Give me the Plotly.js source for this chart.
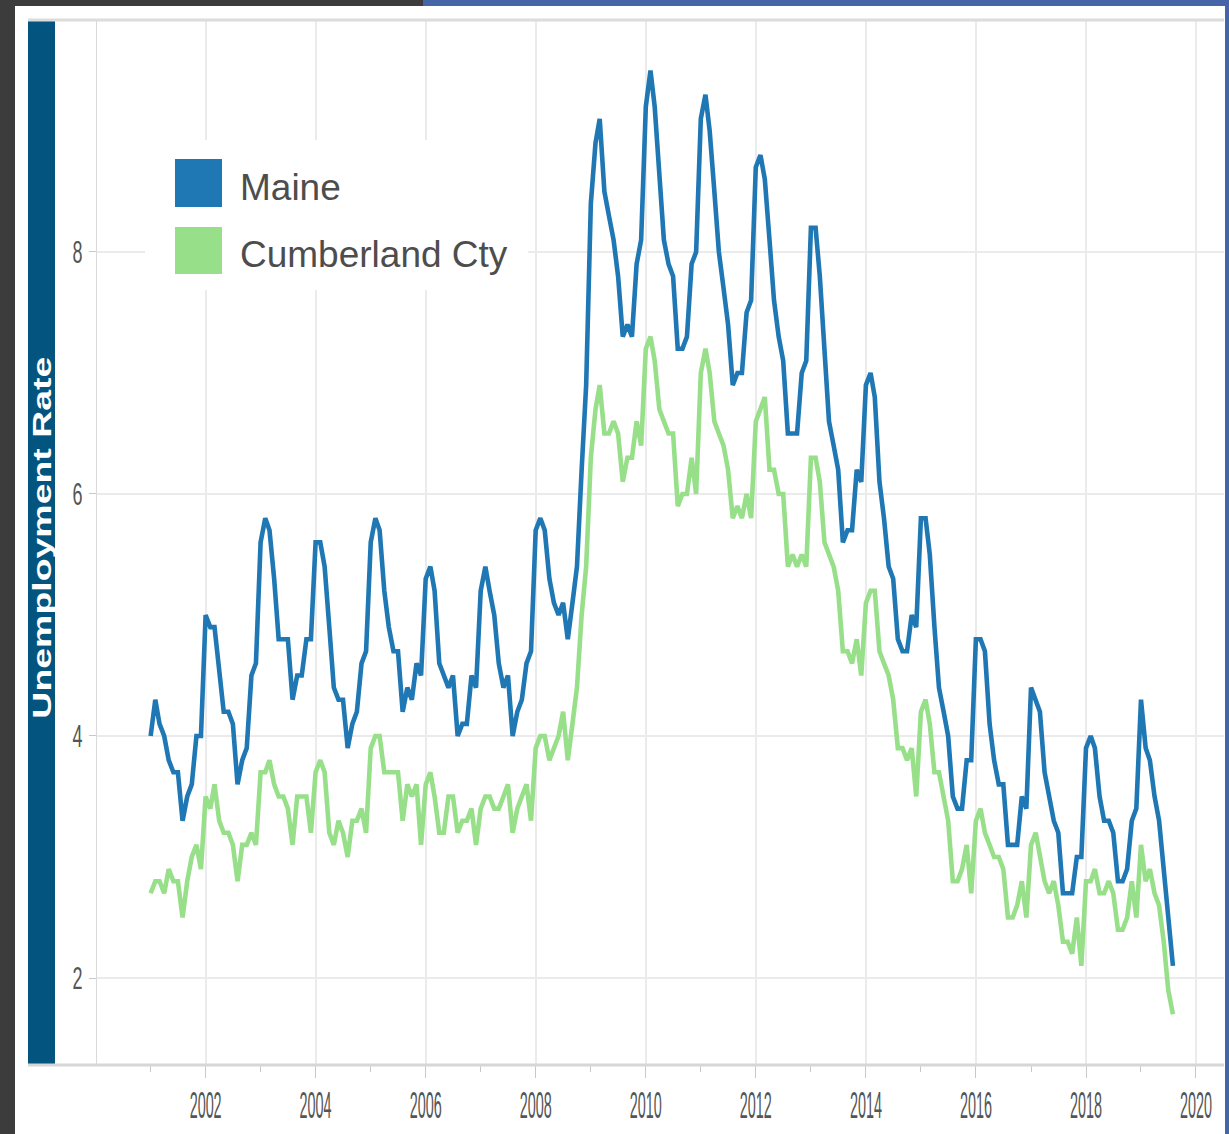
<!DOCTYPE html>
<html>
<head>
<meta charset="utf-8">
<script src="https://cdn.plot.ly/plotly-3.0.1.min.js"></script>
<style>
  html, body { margin:0; padding:0; width:1229px; height:1134px; overflow:hidden; background:#3c3c3c; }
  #panel { position:absolute; left:15px; top:6px; width:1212px; height:1128px; background:#ffffff; }
  #topbar { position:absolute; left:423px; top:0; width:806px; height:6px; background:#4565a8; }
  #chart { position:absolute; left:0; top:0; width:1229px; height:1134px; }
  #rightbar { position:absolute; left:1225px; top:0; width:4px; height:1134px; background:#4565a8; }
</style>
</head>
<body>
<div id="panel"></div>
<div id="topbar"></div>
<div id="chart"></div>
<div id="rightbar"></div>
<script>
// ---------------- DATA (monthly, Jan 2001 .. Aug 2019) ----------------
const startYear = 2001;
const seriesNames = ["Maine", "Cumberland Cty"];

const maine = [
  4.0, 4.3, 4.1, 4.0, 3.8, 3.7, 3.7, 3.3, 3.5, 3.6, 4.0, 4.0,   // 2001
  5.0, 4.9, 4.9, 4.5, 4.2, 4.2, 4.1, 3.6, 3.8, 3.9, 4.5, 4.6,   // 2002
  5.6, 5.8, 5.7, 5.3, 4.8, 4.8, 4.8, 4.3, 4.5, 4.5, 4.8, 4.8,   // 2003
  5.6, 5.6, 5.4, 4.9, 4.4, 4.3, 4.3, 3.9, 4.1, 4.2, 4.6, 4.7,   // 2004
  5.6, 5.8, 5.7, 5.2, 4.9, 4.7, 4.7, 4.2, 4.4, 4.3, 4.6, 4.5,   // 2005
  5.3, 5.4, 5.2, 4.6, 4.5, 4.4, 4.5, 4.0, 4.1, 4.1, 4.5, 4.4,   // 2006
  5.2, 5.4, 5.2, 5.0, 4.6, 4.4, 4.5, 4.0, 4.2, 4.3, 4.6, 4.7,   // 2007
  5.7, 5.8, 5.7, 5.3, 5.1, 5.0, 5.1, 4.8, 5.1, 5.4, 6.2, 6.9,   // 2008
  8.4, 8.9, 9.1, 8.5, 8.3, 8.1, 7.8, 7.3, 7.4, 7.3, 7.9, 8.1,   // 2009
  9.2, 9.5, 9.2, 8.6, 8.1, 7.9, 7.8, 7.2, 7.2, 7.3, 7.9, 8.0,   // 2010
  9.1, 9.3, 9.0, 8.5, 8.0, 7.7, 7.4, 6.9, 7.0, 7.0, 7.5, 7.6,   // 2011
  8.7, 8.8, 8.6, 8.1, 7.6, 7.3, 7.1, 6.5, 6.5, 6.5, 7.0, 7.1,   // 2012
  8.2, 8.2, 7.8, 7.2, 6.6, 6.4, 6.2, 5.6, 5.7, 5.7, 6.2, 6.1,   // 2013
  6.9, 7.0, 6.8, 6.1, 5.8, 5.4, 5.3, 4.8, 4.7, 4.7, 5.0, 4.9,   // 2014
  5.8, 5.8, 5.5, 4.9, 4.4, 4.2, 4.0, 3.5, 3.4, 3.4, 3.8, 3.8,   // 2015
  4.8, 4.8, 4.7, 4.1, 3.8, 3.6, 3.6, 3.1, 3.1, 3.1, 3.5, 3.4,   // 2016
  4.4, 4.3, 4.2, 3.7, 3.5, 3.3, 3.2, 2.7, 2.7, 2.7, 3.0, 3.0,   // 2017
  3.9, 4.0, 3.9, 3.5, 3.3, 3.3, 3.2, 2.8, 2.8, 2.9, 3.3, 3.4,   // 2018
  4.3, 3.9, 3.8, 3.5, 3.3, 2.9, 2.5, 2.1                        // 2019
];

const cumberland = [
  2.7, 2.8, 2.8, 2.7, 2.9, 2.8, 2.8, 2.5, 2.8, 3.0, 3.1, 2.9,   // 2001
  3.5, 3.4, 3.6, 3.3, 3.2, 3.2, 3.1, 2.8, 3.1, 3.1, 3.2, 3.1,   // 2002
  3.7, 3.7, 3.8, 3.6, 3.5, 3.5, 3.4, 3.1, 3.5, 3.5, 3.5, 3.2,   // 2003
  3.7, 3.8, 3.7, 3.2, 3.1, 3.3, 3.2, 3.0, 3.3, 3.3, 3.4, 3.2,   // 2004
  3.9, 4.0, 4.0, 3.7, 3.7, 3.7, 3.7, 3.3, 3.6, 3.5, 3.6, 3.1,   // 2005
  3.6, 3.7, 3.5, 3.2, 3.2, 3.5, 3.5, 3.2, 3.3, 3.3, 3.4, 3.1,   // 2006
  3.4, 3.5, 3.5, 3.4, 3.4, 3.5, 3.6, 3.2, 3.4, 3.5, 3.6, 3.3,   // 2007
  3.9, 4.0, 4.0, 3.8, 3.9, 4.0, 4.2, 3.8, 4.1, 4.4, 5.0, 5.4,   // 2008
  6.3, 6.7, 6.9, 6.5, 6.5, 6.6, 6.5, 6.1, 6.3, 6.3, 6.6, 6.4,   // 2009
  7.2, 7.3, 7.1, 6.7, 6.6, 6.5, 6.5, 5.9, 6.0, 6.0, 6.3, 6.0,   // 2010
  7.0, 7.2, 7.0, 6.6, 6.5, 6.4, 6.2, 5.8, 5.9, 5.8, 6.0, 5.8,   // 2011
  6.6, 6.7, 6.8, 6.2, 6.2, 6.0, 6.0, 5.4, 5.5, 5.4, 5.5, 5.4,   // 2012
  6.3, 6.3, 6.1, 5.6, 5.5, 5.4, 5.2, 4.7, 4.7, 4.6, 4.8, 4.5,   // 2013
  5.1, 5.2, 5.2, 4.7, 4.6, 4.5, 4.3, 3.9, 3.9, 3.8, 3.9, 3.5,   // 2014
  4.2, 4.3, 4.1, 3.7, 3.7, 3.5, 3.3, 2.8, 2.8, 2.9, 3.1, 2.7,   // 2015
  3.3, 3.4, 3.2, 3.1, 3.0, 3.0, 2.9, 2.5, 2.5, 2.6, 2.8, 2.5,   // 2016
  3.1, 3.2, 3.0, 2.8, 2.7, 2.8, 2.6, 2.3, 2.3, 2.2, 2.5, 2.1,   // 2017
  2.8, 2.8, 2.9, 2.7, 2.7, 2.8, 2.7, 2.4, 2.4, 2.5, 2.8, 2.5,   // 2018
  3.1, 2.8, 2.9, 2.7, 2.6, 2.3, 1.9, 1.7                        // 2019
];

const yTickVals = [2, 4, 6, 8];
const yTitle = "Unemployment Rate";

// month dates for each observation
function monthDate(i) {
  const y = startYear + Math.floor(i / 12);
  const m = (i % 12) + 1;
  return y + "-" + (m < 10 ? "0" + m : m) + "-01";
}
const datesMaine = maine.map((_, i) => monthDate(i));
const datesCumb = cumberland.map((_, i) => monthDate(i));

// ---------------- LAYOUT ----------------
const W = 1229, H = 1134;
const L = 97, R = 1224, T = 20, B = 1065;
const fx = p => (p - L) / (R - L);
const fy = p => (B - p) / (B - T);

const BLUE = "#1f77b4", GREEN = "#98df8a";
const FONT = "Liberation Sans, Arial, sans-serif";

const traces = [
  { type: "scatter", mode: "lines", name: seriesNames[1], x: datesCumb, y: cumberland,
    line: { color: GREEN, width: 4.6, shape: "linear" }, showlegend: false, hoverinfo: "skip" },
  { type: "scatter", mode: "lines", name: seriesNames[0], x: datesMaine, y: maine,
    line: { color: BLUE, width: 4.6, shape: "linear" }, showlegend: false, hoverinfo: "skip" }
];

const layout = {
  width: W, height: H,
  margin: { l: L, r: W - R, t: T, b: H - B, pad: 0 },
  paper_bgcolor: "rgba(0,0,0,0)",
  plot_bgcolor: "rgba(0,0,0,0)",
  showlegend: false,
  xaxis: {
    type: "date",
    range: ["2000-01-11", "2020-07-05"],
    tick0: "2002-01-01", dtick: "M24", tickformat: "%Y",
    showgrid: true, gridcolor: "#ebebeb", gridwidth: 2,
    zeroline: false, showline: false,
    ticks: "outside", ticklen: 12, tickwidth: 1, tickcolor: "#c8c8c8",
    ticklabelstandoff: 16,
    tickfont: { family: FONT, size: 20, color: "#555555" },
    minor: { tick0: "2001-01-01", dtick: "M12", ticks: "outside", ticklen: 6, tickwidth: 1,
             tickcolor: "#c8c8c8", showgrid: false }
  },
  yaxis: {
    range: [1.281, 9.917],
    tickvals: yTickVals,
    showgrid: true, gridcolor: "#ebebeb", gridwidth: 2,
    zeroline: false, showline: true, linecolor: "#d9d9d9", linewidth: 1,
    ticks: "outside", ticklen: 7, tickwidth: 1, tickcolor: "#c8c8c8",
    tickfont: { family: FONT, size: 32, color: "#555555" }
  },
  shapes: [
    // dark blue band behind y title
    { type: "rect", xref: "paper", yref: "paper", x0: fx(28), x1: fx(55), y0: 0, y1: 1,
      fillcolor: "#03557f", line: { width: 0 }, layer: "above" },
    // top and bottom frame lines
    { type: "line", xref: "paper", yref: "paper", x0: fx(28), x1: 1, y0: 1, y1: 1,
      line: { color: "#dcdcdc", width: 3 }, layer: "above" },
    { type: "line", xref: "paper", yref: "paper", x0: fx(28), x1: 1, y0: 0, y1: 0,
      line: { color: "#d6d6d6", width: 3 }, layer: "above" },
    // legend background
    { type: "rect", xref: "paper", yref: "paper", x0: fx(145), x1: fx(528), y0: fy(290), y1: fy(140),
      fillcolor: "#ffffff", line: { width: 0 }, layer: "above" },
    // legend swatches
    { type: "rect", xref: "paper", yref: "paper", x0: fx(175), x1: fx(222), y0: fy(207), y1: fy(159),
      fillcolor: BLUE, line: { width: 0 }, layer: "above" },
    { type: "rect", xref: "paper", yref: "paper", x0: fx(175), x1: fx(222), y0: fy(274), y1: fy(227),
      fillcolor: GREEN, line: { width: 0 }, layer: "above" }
  ],
  annotations: [
    { text: yTitle, xref: "paper", yref: "paper", x: fx(41.5), y: fy(538),
      xanchor: "center", yanchor: "middle", textangle: -90, showarrow: false,
      font: { family: FONT, size: 25, color: "#ffffff", weight: "bold" } },
    { text: seriesNames[0], xref: "paper", yref: "paper", x: fx(238), y: fy(187),
      xanchor: "left", yanchor: "middle", showarrow: false,
      font: { family: FONT, size: 37, color: "#4d4d4d" } },
    { text: seriesNames[1], xref: "paper", yref: "paper", x: fx(238), y: fy(255),
      xanchor: "left", yanchor: "middle", showarrow: false,
      font: { family: FONT, size: 37, color: "#4d4d4d" } }
  ]
};

Plotly.newPlot("chart", traces, layout, { staticPlot: true, displayModeBar: false }).then(gd => {
  // condensed, tall tick labels and stretched axis title, as in the reference
  gd.querySelectorAll(".xtick text").forEach(t => {
    t.setAttribute("textLength", "32"); t.setAttribute("lengthAdjust", "spacingAndGlyphs");
    const x = parseFloat(t.getAttribute("x")) || 0;
    const y = parseFloat(t.getAttribute("y")) || 0;
    const tr = t.getAttribute("transform") || "";
    t.setAttribute("transform", tr + " translate(" + x + "," + y + ") scale(1,1.8) translate(" + (-x) + "," + (-y) + ")");
  });
  gd.querySelectorAll(".ytick text").forEach(t => {
    t.setAttribute("textLength", "10"); t.setAttribute("lengthAdjust", "spacingAndGlyphs");
  });
  gd.querySelectorAll(".annotation-text").forEach(t => {
    if (t.textContent === yTitle) {
      t.setAttribute("textLength", "362"); t.setAttribute("lengthAdjust", "spacingAndGlyphs");
    }
  });
});
</script>
</body>
</html>
